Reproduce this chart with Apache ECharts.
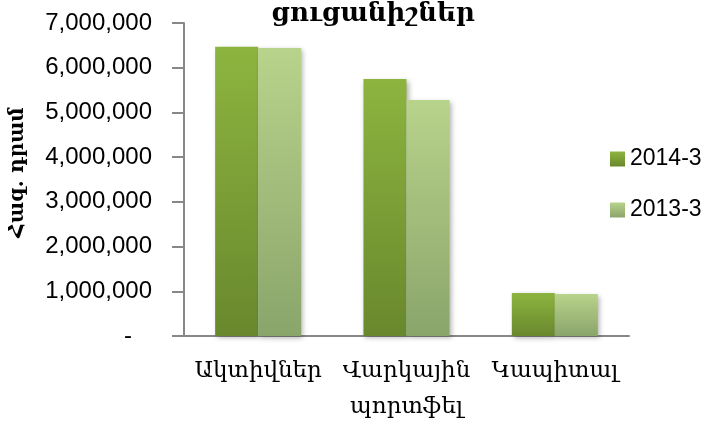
<!DOCTYPE html>
<html><head><meta charset="utf-8">
<script src="https://cdn.jsdelivr.net/npm/echarts@6/dist/echarts.min.js"></script>
<style>html,body{margin:0;padding:0;background:#fff}#c{width:708px;height:425px}</style>
</head><body><div id="c"></div>
<script>
const categories = ['Ակտիվներ', 'Վարկային\nպորտֆել', 'Կապիտալ'];
const seriesNames = ['2014-3', '2013-3'];
const values2014 = [6470000, 5750000, 960000];
const values2013 = [6440000, 5280000, 940000];
const yTicks = [0, 1000000, 2000000, 3000000, 4000000, 5000000, 6000000, 7000000];

const chart = echarts.init(document.getElementById('c'));
function grad(top, bottom) {
  return new echarts.graphic.LinearGradient(0, 0, 0, 1, [
    {offset: 0, color: top}, {offset: 1, color: bottom}
  ]);
}
const serif = '"DejaVu Serif", serif';
const sans = '"Liberation Sans", Arial, sans-serif';
chart.setOption({
  animation: false,
  title: {
    text: 'ցուցանիշներ',
    left: 373, top: 1, textAlign: 'center', padding: 0,
    textStyle: {fontFamily: serif, fontWeight: 'bold', fontSize: 26, color: '#000'}
  },
  legend: {
    orient: 'vertical', left: 610, top: 147, padding: 0,
    itemWidth: 15, itemHeight: 15, itemGap: 27,
    icon: 'rect',
    textStyle: {fontFamily: sans, fontSize: 23, color: '#000', lineHeight: 24},
    data: seriesNames
  },
  grid: {left: 178, right: 79, top: 23, bottom: 89},
  xAxis: {
    type: 'category', data: categories,
    axisLine: {lineStyle: {color: '#888', width: 2}},
    axisTick: {show: false},
    axisLabel: {margin: 17, fontFamily: serif, fontSize: 23, color: '#000', lineHeight: 36, interval: 0}
  },
  yAxis: {
    type: 'value', min: 0, max: 7000000, interval: 1000000,
    name: 'Հազ. դրամ', nameLocation: 'middle', nameGap: 156, nameRotate: 90,
    nameTextStyle: {fontFamily: serif, fontWeight: 'bold', fontSize: 20, color: '#000', padding: [0, 0, 0, 14]},
    splitLine: {show: false},
    axisLine: {show: true, lineStyle: {color: '#888', width: 2}},
    axisTick: {show: true, length: 12, lineStyle: {color: '#888', width: 2}},
    axisLabel: {
      margin: 32, fontFamily: sans, fontSize: 24, color: '#000',
      formatter: v => v === 0 ? '-   ' : v.toLocaleString('en-US')
    }
  },
  series: [
    {
      name: seriesNames[0], type: 'bar', data: values2014,
      barGap: '0%', barCategoryGap: '42%',
      itemStyle: {color: grad('#8db43f', '#69882d'), shadowBlur: 5, shadowColor: 'rgba(0,0,0,0.3)', shadowOffsetX: 2, shadowOffsetY: 2}
    },
    {
      name: seriesNames[1], type: 'bar', data: values2013,
      itemStyle: {color: grad('#b8d38b', '#8aa56a'), shadowBlur: 5, shadowColor: 'rgba(0,0,0,0.3)', shadowOffsetX: 2, shadowOffsetY: 2}
    }
  ]
});
</script></body></html>
